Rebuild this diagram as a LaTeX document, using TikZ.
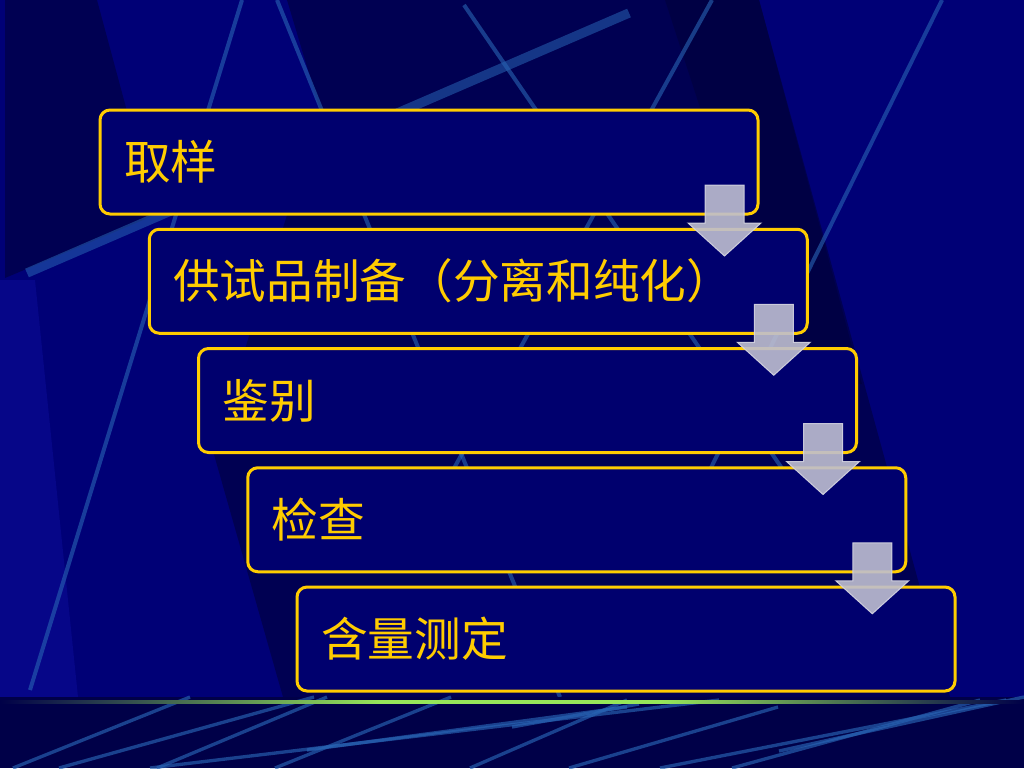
\documentclass[tikz,border=0pt]{standalone}
\usepackage{fontspec}
\newfontfamily\cjk{Noto Sans CJK SC}
\usetikzlibrary{positioning}

\definecolor{bgbase}{RGB}{0,0,118}
\definecolor{bgdark}{RGB}{0,0,82}
\definecolor{bgdarker}{RGB}{0,0,68}
\definecolor{bglight}{RGB}{6,6,136}
\definecolor{bgfloor}{RGB}{0,0,72}
\definecolor{streak}{RGB}{40,100,180}
\definecolor{glow}{RGB}{150,230,90}
\definecolor{boxfill}{RGB}{0,0,110}
\definecolor{boxline}{RGB}{255,204,0}
\definecolor{arrowfill}{RGB}{190,190,208}
\definecolor{arrowline}{RGB}{214,214,226}

\begin{document}
\begin{tikzpicture}[x=0.75pt,y=-0.75pt,
    box/.style={draw=boxline,fill=boxfill,line width=2.25pt,rounded corners=7.5pt,
      minimum height=78pt,text width=457.5pt,inner xsep=18pt,outer sep=0pt,align=left,
      text=boxline,font=\cjk\fontsize{35}{40}\selectfont},
    flowarrow/.style={fill=arrowfill,draw=arrowline,line width=0.75pt,
      fill opacity=0.9,draw opacity=0.9}]

% Background
      \useasboundingbox (0,0) rectangle (1024,768);
      \fill[bgbase] (0,0) rectangle (1024,697);
      \fill[bgdark] (5,0) -- (97,0) -- (155,215) -- (5,278) -- cycle;
      \fill[bglight] (0,280) -- (35,280) -- (78,697) -- (0,697) -- cycle;
      \fill[bgdark] (287,0) -- (759,0) -- (950,697) -- (283,697) -- (213,451) -- (320,110) -- cycle;
      \fill[bgdarker] (665,0) -- (759,0) -- (862,384) -- (790,384) -- cycle;
    % streaks
      \begin{scope}[draw=streak,line width=3pt,opacity=0.6]
        \draw (242,0) -- (30,690);
        \draw (277,0) -- (560,697);
        \draw (464,5) -- (790,480);
        \draw (712,0) -- (420,530);
        \draw (942,0) -- (700,490);
        \draw[line width=7pt,opacity=0.55] (629,13) -- (27,273);
      \end{scope}
    % floor
      \fill[bgfloor] (0,697) rectangle (1024,768);
      \begin{scope}[draw=streak,line width=2.5pt,opacity=0.65]
        \draw (13,768) -- (190,697);
        \draw (59,768) -- (314,697);
        \draw (157,768) -- (327,697);
        \draw (150,768) -- (719,700);
        \draw (275,768) -- (451,697);
        \draw (307,750) -- (627,707);
        \draw (470,768) -- (627,700);
        \draw (569,768) -- (778,707);
        \draw (512,727) -- (639,704);
        \draw (660,768) -- (1006,700);
        \draw (732,768) -- (980,700);
        \draw (779,751) -- (1024,697);
      \end{scope}
      \shade[left color=bgfloor,right color=glow] (0,700) rectangle (380,703.5);
      \fill[glow] (380,700) rectangle (660,703.5);
      \shade[left color=glow,right color=bgfloor] (660,700) rectangle (1024,703.5);

% Steps
      \node[box,anchor=north west] (b1) at (100,110) {取样};
      \node[box,below right=11.44pt and 36.94pt of b1.south west] (b2) {供试品制备（分离和纯化）};
      \node[box,below right=11.44pt and 36.94pt of b2.south west] (b3) {鉴别};
      \node[box,below right=11.44pt and 36.94pt of b3.south west] (b4) {检查};
      \node[box,below right=11.44pt and 36.94pt of b4.south west] (b5) {含量测定};

% Arrows
      \foreach \i in {1,...,4}
        \draw[flowarrow,shift={(b\i.south east)}] (-53,-29) -- (-14,-29) -- (-14,9) -- (3,9)
          -- (-33.5,42) -- (-70,9) -- (-53,9) -- cycle;

\end{tikzpicture}
\end{document}
